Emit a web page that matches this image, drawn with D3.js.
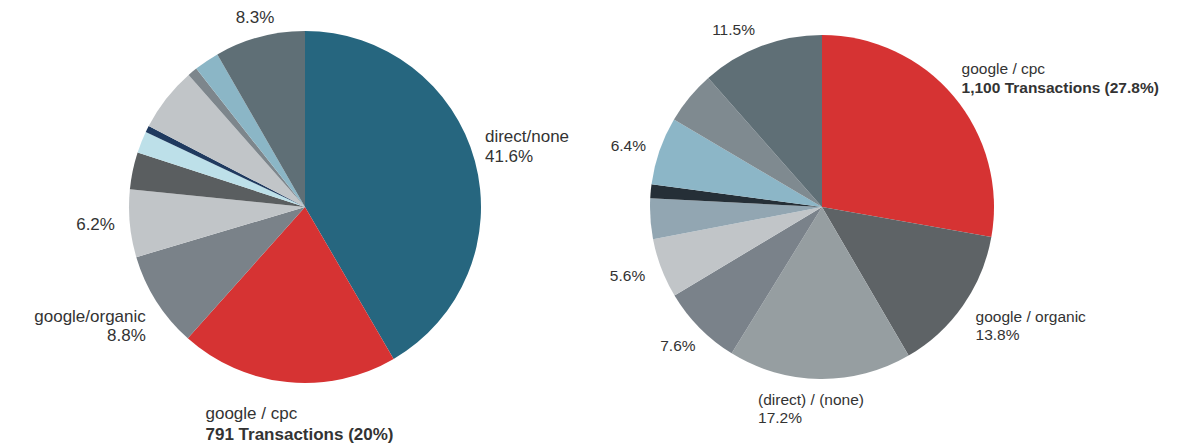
<!DOCTYPE html>
<html lang="en">
<head>
    <meta charset="UTF-8">
    <script src="https://d3js.org/d3.v7.min.js"></script>
    <title>Transactions by source / medium</title>
    <style>
        body { margin: 0; background: #fff; }
        text { font-family: "Liberation Sans", Arial, sans-serif; fill: #333; }
    </style>
</head>
<body>
    <script>
        // left pie: share of transactions (%) by source / medium, clockwise from 12 o'clock
        const leftShares = [41.6, 20.0, 8.8, 6.2, 3.4, 2.0, 0.6, 5.9, 0.9, 2.3, 8.3];
        // null = no label, "" = percentage only
        const leftLabels = ["direct/none", "google / cpc", "google/organic", "", null, null, null, null, null, null, ""];
        const leftCpcTransactions = 791;

        // right pie
        const rightShares = [27.8, 13.8, 17.2, 7.6, 5.6, 3.8, 1.3, 6.4, 5.0, 11.5];
        const rightLabels = ["google / cpc", "google / organic", "(direct) / (none)", "", "", null, null, "", null, ""];
        const rightCpcTransactions = 1100;

        const leftColors = ["#26667f", "#d63333", "#7a8289", "#c1c5c8", "#5a5e60", "#bde0e9",
                            "#1f3a5f", "#c1c5c8", "#7d868c", "#8bb6c6", "#5f6f76"];
        const rightColors = ["#d63333", "#5e6366", "#969ea1", "#7a828a", "#c1c5c8", "#92a6b2",
                             "#252f37", "#8cb6c7", "#7f8a90", "#5f6f76"];

        // small hand tweaks for label placement, [dx, dy] by slice index
        const leftNudge = {0: [-2, -6], 1: [23, 8], 2: [-7, 7], 3: [-1, -1], 10: [4, 3]};
        const rightNudge = {0: [20, 2], 1: [11, 2], 2: [-8, -2], 3: [1, 2], 4: [-4, -1], 7: [-1, 2], 9: [-15, 4]};

        const svg = d3.select("body").append("svg")
            .attr("width", 1200)
            .attr("height", 448);

        const fmt = d3.format(",");

        function drawPie(opts) {
            const g = svg.append("g").attr("transform", `translate(${opts.cx},${opts.cy})`);
            const pie = d3.pie().sort(null).value(d => d);
            const arcs = pie(opts.shares);
            const arc = d3.arc().innerRadius(0).outerRadius(opts.r);

            g.selectAll("path.slice")
                .data(arcs)
                .enter().append("path")
                .attr("class", "slice")
                .attr("d", arc)
                .attr("fill", (d, i) => opts.colors[i]);

            const fs = opts.fontSize;
            const R = opts.r + 14;

            arcs.forEach((d, i) => {
                const name = opts.labels[i];
                if (name === null) return;
                const a = (d.startAngle + d.endAngle) / 2;
                const s = Math.sin(a), c = Math.cos(a);
                const px = s * R, py = -c * R;

                const lab = g.append("g");
                const txt = lab.append("text")
                    .attr("font-size", fs)
                    .attr("text-anchor", s < -0.3 ? "end" : "start");

                const lines = [];
                if (name !== "") lines.push({t: name, bold: false});
                if (i === opts.cpcIndex) {
                    lines.push({t: `${fmt(opts.cpcTransactions)} Transactions (${d.data}%)`, bold: true});
                } else {
                    lines.push({t: `${d.data}%`, bold: false});
                }
                lines.forEach((l, k) => {
                    txt.append("tspan")
                        .attr("x", 0)
                        .attr("dy", k === 0 ? 0 : (l.bold ? fs * 1.26 : fs * 1.15))
                        .attr("font-weight", l.bold ? "bold" : null)
                        .text(l.t);
                });

                const bb = txt.node().getBBox();
                const left = px - bb.width * (1 - s) / 2;
                const top = py - bb.height * (1 + c) / 2;
                const nd = opts.nudge[i] || [0, 0];
                lab.attr("transform", `translate(${left - bb.x + nd[0]},${top - bb.y + nd[1]})`);
            });
        }

        drawPie({cx: 305, cy: 207, r: 176, fontSize: 17, shares: leftShares, labels: leftLabels,
                 colors: leftColors, nudge: leftNudge, cpcIndex: 1, cpcTransactions: leftCpcTransactions});
        drawPie({cx: 822, cy: 207, r: 172, fontSize: 15.5, shares: rightShares, labels: rightLabels,
                 colors: rightColors, nudge: rightNudge, cpcIndex: 0, cpcTransactions: rightCpcTransactions});
    </script>
</body>
</html>
